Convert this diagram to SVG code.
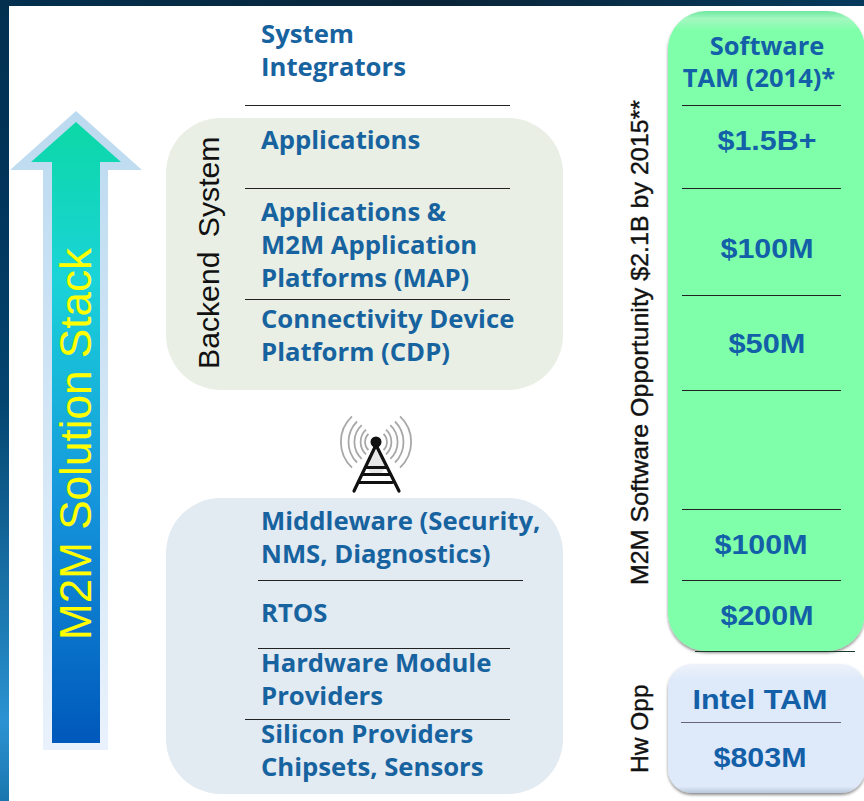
<svg xmlns="http://www.w3.org/2000/svg" width="864" height="801" viewBox="0 0 864 801">
<defs>
<linearGradient id="strip" x1="0" y1="0" x2="0" y2="1"><stop offset="0" stop-color="#02304f"/><stop offset="0.25" stop-color="#02355c"/><stop offset="0.5" stop-color="#04456f"/><stop offset="0.8" stop-color="#1f7fb8"/><stop offset="0.9" stop-color="#2c93d2"/><stop offset="1" stop-color="#1a76ae"/></linearGradient>
<linearGradient id="top" x1="0" y1="0" x2="1" y2="0"><stop offset="0" stop-color="#02304f"/><stop offset="0.5" stop-color="#0a2438"/><stop offset="1" stop-color="#063a5c"/></linearGradient>
<linearGradient id="arrow" x1="0" y1="0" x2="0" y2="1"><stop offset="0" stop-color="#0cd8a6"/><stop offset="0.25" stop-color="#1ad4d8"/><stop offset="0.6" stop-color="#1597dc"/><stop offset="1" stop-color="#0058bb"/></linearGradient>
<linearGradient id="halo" x1="0" y1="0" x2="0" y2="1"><stop offset="0" stop-color="#bcdaf0"/><stop offset="1" stop-color="#e9f2fc"/></linearGradient>
<linearGradient id="green" x1="0" y1="0" x2="0" y2="1"><stop offset="0" stop-color="#6fe8a0"/><stop offset="0.012" stop-color="#a4f7c0"/><stop offset="0.03" stop-color="#80ffaa"/><stop offset="1" stop-color="#80ffaa"/></linearGradient>
<linearGradient id="blue" x1="0" y1="0" x2="0" y2="1"><stop offset="0" stop-color="#eef3fb"/><stop offset="0.12" stop-color="#dee9f9"/><stop offset="0.95" stop-color="#dee9f9"/><stop offset="1" stop-color="#b9c8dc"/></linearGradient>
<filter id="sh" x="-10%" y="-10%" width="120%" height="120%"><feDropShadow dx="0" dy="2" stdDeviation="1.6" flood-color="#000" flood-opacity="0.45"/></filter>
<filter id="soft" x="-10%" y="-10%" width="120%" height="120%"><feGaussianBlur stdDeviation="0.45"/></filter>
</defs>
<style>
text{font-family:"Open Sans","Liberation Sans",sans-serif}
.l{font-size:25.700px;font-weight:700;fill:#17639f}
.c{font-size:25.500px;font-weight:700;fill:#135fa8;text-anchor:middle}
.v{font-family:"Liberation Sans",Arial,sans-serif;font-size:28px;font-weight:700;fill:#135fa8;text-anchor:middle}
.r{font-family:"Liberation Sans",Arial,sans-serif;fill:#111;stroke:#111;stroke-width:0.4}
.sep{stroke:#222;stroke-width:1;fill:none}
.wave{fill:none;stroke:#a8a8a8;stroke-width:1.8}
.tw{fill:none;stroke:#111;stroke-width:3.200;stroke-linecap:round}
</style>
<rect width="864" height="801" fill="#fff"/>
<rect id="edge-left" x="0" y="0" width="9" height="801" fill="url(#strip)"/>
<rect id="edge-top" x="0" y="0" width="864" height="6" fill="url(#top)"/>

<g id="stack-arrow">
<polygon points="76,111 142,170 108,170 108,750 43,750 43,170 10,170" fill="url(#halo)"/>
<polygon points="76,122 121,162 100,162 100,743 52,743 52,162 31,162" fill="url(#arrow)"/>
<text transform="translate(91,640) rotate(-90)" style="font-family:'Liberation Sans',Arial,sans-serif;font-size:44px" fill="#ffff00" textLength="392" lengthAdjust="spacingAndGlyphs">M2M Solution Stack</text>
</g>

<g id="backend-panel">
<rect x="166" y="118" width="397" height="272" rx="55" ry="55" fill="#e9efe4"/>
<text transform="translate(219,369) rotate(-90)" style="font-family:'Liberation Sans',Arial,sans-serif;font-size:30.200px;fill:#111;word-spacing:6px">Backend System</text>
</g>
<g id="device-panel">
<rect x="166" y="498" width="397" height="296" rx="55" ry="55" fill="#e2eaf2"/>
</g>

<g id="connectors">
<path class="sep" d="M245 105.500H510M245 188.500H510M245 299.500H510M258 580.500H523M258 648.500H510M245 719.500H510"/>
</g>

<g id="system-integrators"><text class="l" x="261" y="43">System</text><text class="l" x="261" y="76">Integrators</text></g>
<g id="applications"><text class="l" x="261" y="149">Applications</text></g>
<g id="map"><text class="l" x="261" y="221">Applications &amp;</text><text class="l" x="261" y="254">M2M Application</text><text class="l" x="261" y="287">Platforms (MAP)</text></g>
<g id="cdp"><text class="l" x="261" y="328">Connectivity Device</text><text class="l" x="261" y="361">Platform (CDP)</text></g>
<g id="middleware"><text class="l" x="261" y="530">Middleware (Security,</text><text class="l" x="261" y="563">NMS, Diagnostics)</text></g>
<g id="rtos"><text class="l" x="261" y="622">RTOS</text></g>
<g id="hardware"><text class="l" x="261" y="672">Hardware Module</text><text class="l" x="261" y="705">Providers</text></g>
<g id="silicon"><text class="l" x="261" y="743">Silicon Providers</text><text class="l" x="261" y="776">Chipsets, Sensors</text></g>

<g id="tower">
<g filter="url(#soft)">
<path class="wave" d="M352 416.400A35 35 0 0 0 352 467.600M357 421.500A29 29 0 0 0 357 462.500M361.700 425.200A23 23 0 0 0 361.700 458.800M366 429.600A17 17 0 0 0 366 454.400M368.500 434A11 11 0 0 0 368.500 450"/>
<path class="wave" d="M400 416.400A35 35 0 0 1 400 467.600M395 421.500A29 29 0 0 1 395 462.500M390.300 425.200A23 23 0 0 1 390.300 458.800M386 429.600A17 17 0 0 1 386 454.400M383.500 434A11 11 0 0 1 383.500 450"/>
<path d="M366 467L376 447L386 467L379 476H373Z" fill="#e6e6e6"/>
</g>
<circle cx="376" cy="442" r="5.500" fill="#111"/>
<path class="tw" d="M375 447L354 491M377 447L399 491M366 467.500H386M363 474.500H389M360 482.500H392"/>
</g>

<g id="software-tam">
<rect x="668" y="11" width="197" height="640" rx="38" ry="38" fill="url(#green)" filter="url(#sh)"/>
<path d="M695 651.500H855" stroke="#1a3a2a" stroke-width="1" fill="none"/>
<path class="sep" d="M682 105.500H841M682 188.500H841M682 295.500H841M682 390.500H841M682 509.500H841M682 580.500H841" stroke="#234"/>
<text class="c" x="767" y="55">Software</text>
<text class="c" x="759" y="87">TAM (2014)*</text>
<text class="v" x="767" y="150" textLength="99" lengthAdjust="spacingAndGlyphs">$1.5B+</text>
<text class="v" x="767" y="258" textLength="93" lengthAdjust="spacingAndGlyphs">$100M</text>
<text class="v" x="767" y="353" textLength="77" lengthAdjust="spacingAndGlyphs">$50M</text>
<text class="v" x="761" y="554" textLength="93" lengthAdjust="spacingAndGlyphs">$100M</text>
<text class="v" x="767" y="625" textLength="93" lengthAdjust="spacingAndGlyphs">$200M</text>
</g>
<g id="intel-tam">
<rect x="668" y="664" width="197" height="129" rx="24" ry="24" fill="url(#blue)" filter="url(#sh)"/>
<path d="M681 722.500H841" stroke="#667" stroke-width="1.200" fill="none"/>
<text class="v" x="760" y="709" textLength="135" lengthAdjust="spacingAndGlyphs">Intel TAM</text>
<text class="v" x="760" y="767" textLength="93" lengthAdjust="spacingAndGlyphs">$803M</text>
</g>

<text transform="translate(648,585) rotate(-90)" class="r" style="font-size:24.500px" textLength="485" lengthAdjust="spacingAndGlyphs">M2M Software Opportunity $2.1B by 2015**</text>
<text transform="translate(648,773) rotate(-90)" class="r" style="font-size:24.500px">Hw Opp</text>
</svg>
